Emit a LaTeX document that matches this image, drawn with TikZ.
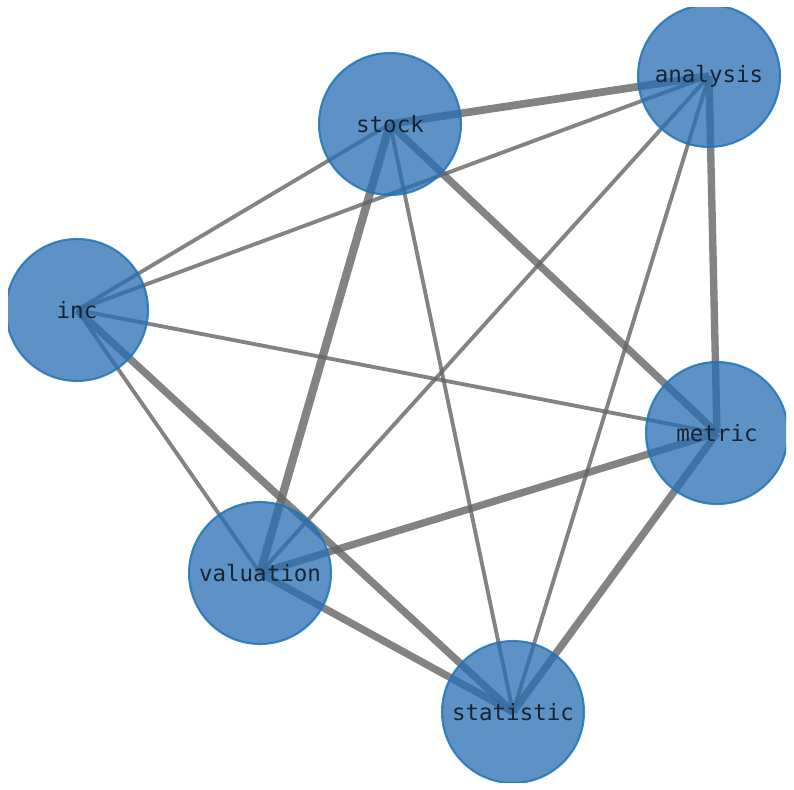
\documentclass[tikz,border=0pt]{standalone}
\usepackage{fontspec}
\setmonofont{DejaVu Sans Mono}
\usetikzlibrary{backgrounds}
\definecolor{nodeblue}{RGB}{40,110,180}
\definecolor{rimblue}{RGB}{31,117,182}
\definecolor{edgegray}{RGB}{100,100,100}
\definecolor{labelink}{RGB}{25,36,50}
\begin{document}
\begin{tikzpicture}[x=0.02cm,y=-0.02cm,line cap=butt,
	word/.style={circle,inner sep=0pt,minimum size=2.84cm,fill=nodeblue,fill opacity=0.75,
		draw=rimblue,draw opacity=0.85,line width=1.2pt,text=labelink,text opacity=1,
		font=\ttfamily\fontsize{12.8}{14}\selectfont},
	link/.style={draw=edgegray,draw opacity=0.8}]
			\useasboundingbox (0,0) rectangle (794,790);
			\clip (8,8) rectangle (786,782);
			\foreach \n/\x/\y in {analysis/709/76, stock/390/124, inc/77/310, metric/717/433, valuation/260/573, statistic/513/712}
			\node[word] (\n) at (\x,\y) {\n};
			\begin{pgfonlayer}{background}
			\foreach \a/\b/\w in {stock/inc/2.2, analysis/inc/2.2, analysis/valuation/2.2, analysis/statistic/2.2, stock/statistic/2.2, inc/metric/2.2, inc/valuation/2.2, stock/analysis/4.4, analysis/metric/4.2, stock/valuation/4.7, stock/metric/4.2, inc/statistic/4.2, valuation/metric/4.2, valuation/statistic/4.2, metric/statistic/4.2}
			\draw[link,line width=\w pt] (\a.center) -- (\b.center);
			\end{pgfonlayer}
		\end{tikzpicture}
\end{document}
